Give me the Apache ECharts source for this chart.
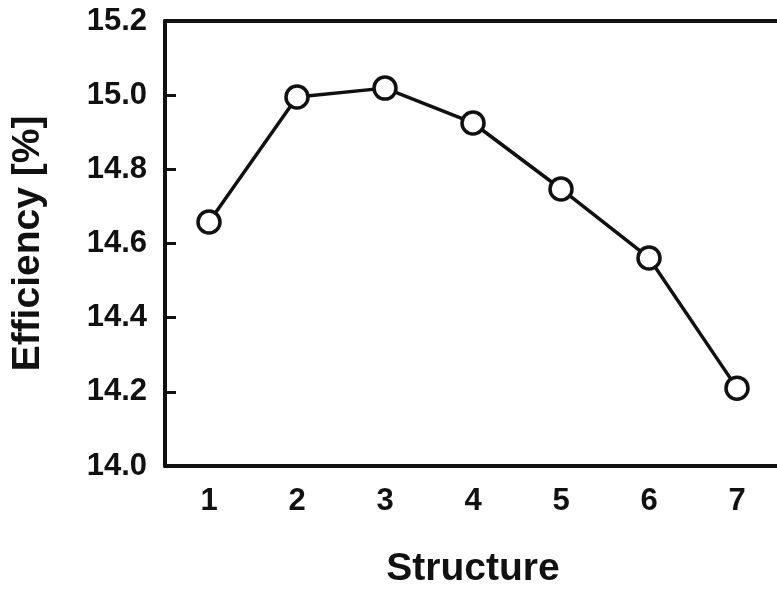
<!DOCTYPE html>
<html>
<head>
<meta charset="utf-8">
<script src="https://cdn.jsdelivr.net/npm/echarts@6/dist/echarts.min.js"></script>
<style>
  html, body { margin: 0; padding: 0; background: #fff; overflow: hidden; }
  /* the plot box runs a few pixels past the right edge of the page */
  #chart { width: 781px; height: 601px; }
</style>
</head>
<body>
<div id="chart"></div>
<script>
// Structure index on the x axis, efficiency (%) on the y axis
const structures = ['1', '2', '3', '4', '5', '6', '7'];
const efficiency = [14.658, 14.995, 15.019, 14.925, 14.747, 14.561, 14.210];
const yTicks = { min: 14.0, max: 15.2, step: 0.2 };

const ink = '#111';
const font = 'Liberation Sans, Arial, sans-serif';
const titleStyle = { fontFamily: font, fontWeight: 'bold', fontSize: 39, color: ink };
const tickStyle = { fontFamily: font, fontWeight: 'bold', fontSize: 31, color: ink };

const chart = echarts.init(document.getElementById('chart'), null, { renderer: 'canvas' });
chart.setOption({
  animation: false,
  backgroundColor: '#fff',
  grid: { left: 165, top: 21, right: 0, bottom: 135 },
  xAxis: [{
    type: 'category',
    data: structures,
    boundaryGap: true,
    name: 'Structure',
    nameLocation: 'middle',
    nameGap: 84,
    nameTextStyle: titleStyle,
    axisLine: { lineStyle: { color: ink, width: 4 } },
    axisTick: { inside: true, alignWithLabel: true, length: 10, lineStyle: { color: ink, width: 3 } },
    axisLabel: Object.assign({ margin: 20 }, tickStyle),
    splitLine: { show: false }
  }, {
    // top frame line of the plot box
    type: 'category',
    data: structures,
    position: 'top',
    axisLine: { lineStyle: { color: ink, width: 4 } },
    axisTick: { show: false },
    axisLabel: { show: false },
    splitLine: { show: false }
  }],
  yAxis: {
    type: 'value',
    min: yTicks.min,
    max: yTicks.max,
    interval: yTicks.step,
    name: 'Efficiency [%]',
    nameLocation: 'middle',
    nameRotate: 90,
    nameGap: 117,
    nameTextStyle: titleStyle,
    axisLine: { show: true, lineStyle: { color: ink, width: 4 } },
    axisTick: { show: true, inside: true, length: 11, lineStyle: { color: ink, width: 3 } },
    axisLabel: Object.assign({ margin: 18, formatter: v => v.toFixed(1) }, tickStyle),
    splitLine: { show: false }
  },
  series: [{
    type: 'line',
    data: efficiency,
    symbol: 'circle',
    symbolSize: 22,
    lineStyle: { color: ink, width: 3.5 },
    itemStyle: { color: '#fff', borderColor: ink, borderWidth: 3.5 },
    z: 5
  }]
});
</script>
</body>
</html>
